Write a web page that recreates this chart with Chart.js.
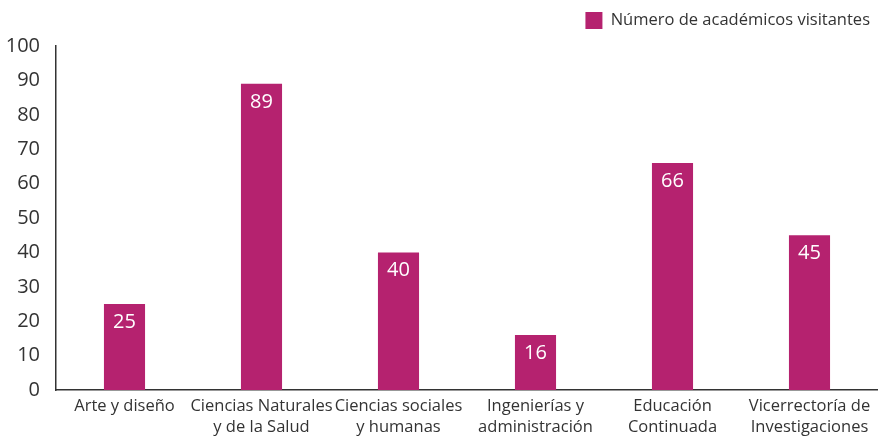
<!DOCTYPE html>
<html>
<head>
<meta charset="utf-8">
<script src="https://cdn.jsdelivr.net/npm/chart.js@4"></script>
<style>
  html, body { margin: 0; padding: 0; background: #fff; }
  #wrap { width: 878px; height: 438px; position: relative; }
</style>
</head>
<body>
<div id="wrap"><canvas id="chart"></canvas></div>
<script>
const categorias = [
    ["Arte y diseño"],
    ["Ciencias Naturales", "y de la Salud"],
    ["Ciencias sociales", "y humanas"],
    ["Ingenierías y", "administración"],
    ["Educación", "Continuada"],
    ["Vicerrectoría de", "Investigaciones"]
];
const academicos = [25, 89, 40, 16, 66, 45];
const serieNombre = "Número de académicos visitantes";

const fuente = "'Open Sans', 'Noto Sans', sans-serif";
const colorBarra = "#b5226f";
const colorTexto = "#333333";

// etiquetas blancas dentro de la barra, cerca del borde superior
const etiquetasBarra = {
    id: "etiquetasBarra",
    afterDatasetsDraw(chart) {
        const ctx = chart.ctx;
        const meta = chart.getDatasetMeta(0);
        ctx.save();
        ctx.fillStyle = "#ffffff";
        ctx.font = "20px " + fuente;
        ctx.textAlign = "center";
        ctx.textBaseline = "middle";
        meta.data.forEach((bar, i) => {
            ctx.fillText(academicos[i], bar.x, bar.y + 18);
        });
        ctx.restore();
    }
};

// un poco mas de aire bajo la leyenda
const espacioLeyenda = {
    id: "espacioLeyenda",
    afterInit(chart) {
        const fit = chart.legend.fit;
        chart.legend.fit = function () {
            fit.call(this);
            this.height += 7;
        };
    }
};

new Chart(document.getElementById("chart"), {
    type: "bar",
    data: {
        labels: categorias,
        datasets: [{
            label: serieNombre,
            data: academicos,
            backgroundColor: colorBarra,
            categoryPercentage: 1,
            barPercentage: 0.3
        }]
    },
    options: {
        responsive: true,
        maintainAspectRatio: false,
        animation: false,
        layout: { padding: { left: 0, right: 0, top: 4, bottom: 0 } },
        plugins: {
            legend: {
                position: "top",
                align: "end",
                labels: {
                    boxWidth: 17,
                    boxHeight: 17,
                    color: colorTexto,
                    font: { family: fuente, size: 16.5 },
                    padding: 8
                }
            },
            tooltip: { enabled: false }
        },
        scales: {
            x: {
                afterFit(scale) { scale.height = 48; },
                grid: { display: false, drawTicks: false, tickLength: 0 },
                border: { display: true, color: "#333333", width: 1.5 },
                ticks: {
                    color: colorTexto,
                    font: { family: fuente, size: 16.5, lineHeight: 1.28 },
                    maxRotation: 0,
                    autoSkip: false,
                    padding: 6
                }
            },
            y: {
                min: 0,
                max: 100,
                afterFit(scale) { scale.width = 56; },
                grid: { display: false },
                border: { display: true, color: "#333333", width: 1.5 },
                ticks: {
                    stepSize: 10,
                    color: colorTexto,
                    font: { family: fuente, size: 20 },
                    padding: 8
                }
            }
        }
    },
    plugins: [etiquetasBarra, espacioLeyenda]
});
</script>
</body>
</html>
